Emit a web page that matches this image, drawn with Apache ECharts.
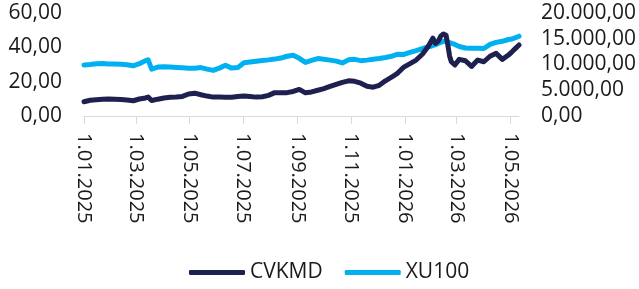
<!DOCTYPE html>
<html>
<head>
<meta charset="utf-8">
<script src="https://cdn.jsdelivr.net/npm/echarts@6/dist/echarts.min.js"></script>
<style>
  html, body { margin: 0; padding: 0; background: #fff; }
  #chart { width: 639px; height: 289px; }
</style>
</head>
<body>
<div id="chart"></div>
<script>
const firstDay = '2025-01-01'
const lastDay = '2026-05-11'

// dates of the points
const pointDates = [
  '2025-01-01', '2025-01-08', '2025-01-15', '2025-01-22', '2025-01-29', '2025-02-05', '2025-02-12', '2025-02-19', '2025-02-26',
  '2025-03-05', '2025-03-12', '2025-03-15', '2025-03-19', '2025-03-26', '2025-04-02', '2025-04-09', '2025-04-16', '2025-04-23', '2025-04-30',
  '2025-05-07', '2025-05-14', '2025-05-21', '2025-05-28', '2025-06-04', '2025-06-11', '2025-06-18', '2025-06-25',
  '2025-07-02', '2025-07-09', '2025-07-16', '2025-07-23', '2025-07-30', '2025-08-06', '2025-08-13', '2025-08-20', '2025-08-27',
  '2025-09-03', '2025-09-10', '2025-09-17', '2025-09-24', '2025-10-01', '2025-10-08', '2025-10-15', '2025-10-22', '2025-10-29',
  '2025-11-05', '2025-11-12', '2025-11-19', '2025-11-26', '2025-12-03', '2025-12-10', '2025-12-17', '2025-12-24', '2025-12-31',
  '2026-01-07', '2026-01-14', '2026-01-21', '2026-01-28', '2026-01-31', '2026-02-02', '2026-02-05', '2026-02-08', '2026-02-11',
  '2026-02-14', '2026-02-17', '2026-02-19', '2026-02-21', '2026-02-23', '2026-02-27', '2026-03-04', '2026-03-11', '2026-03-18',
  '2026-03-25', '2026-04-01', '2026-04-08', '2026-04-15', '2026-04-22', '2026-04-29', '2026-05-03', '2026-05-07', '2026-05-11'
]

const cvkmd = [
  8.3, 9.2, 9.5, 9.8, 9.9, 9.8, 9.6, 9.3, 8.9,
  9.9, 10.5, 11.0, 9.0, 9.8, 10.5, 10.9, 11.1, 11.4, 12.8,
  13.3, 12.4, 11.6, 11.0, 11.0, 10.9, 10.9, 11.3,
  11.6, 11.3, 11.0, 11.2, 12.0, 13.6, 13.5, 13.6, 14.3,
  15.5, 13.5, 14.0, 15.0, 16.0, 17.2, 18.4, 19.6, 20.5,
  20.2, 19.1, 17.3, 16.8, 17.9, 20.5, 22.6, 25.0, 28.5,
  30.5, 32.6, 36.0, 40.8, 43.5, 45.3, 42.3, 43.5, 46.5,
  47.8, 47.0, 41.5, 35.0, 31.6, 29.7, 33.0, 32.2, 28.9,
  32.6, 31.6, 34.8, 36.5, 33.0, 35.5, 37.4, 39.4, 41.4
]

const xu100 = [
  9900, 10000, 10150, 10200, 10100, 10100, 10040, 9950, 9750,
  10150, 10750, 10900, 9100, 9500, 9550, 9500, 9420, 9350, 9280,
  9280, 9400, 9100, 8850, 9300, 9850, 9300, 9400,
  10350, 10500, 10650, 10780, 10900, 11050, 11250, 11600, 11800,
  11200, 10400, 10800, 11150, 11000, 10850, 10650, 10300, 10900,
  11000, 10750, 10850, 11000, 11150, 11350, 11600, 12000, 11950,
  12350, 12700, 13100, 13450, 13550, 13650, 13850, 14100, 14300,
  14500, 14550, 14350, 14240, 14100, 13900, 13500, 13200, 13150,
  13150, 13100, 13900, 14300, 14500, 14850, 14950, 15200, 15500
]

// every calendar day is a category, ticks land on the 1st of odd months
const days = []
for (let d = new Date(firstDay + 'T00:00:00Z'); d <= new Date(lastDay + 'T00:00:00Z'); d.setUTCDate(d.getUTCDate() + 1)) {
  days.push(d.toISOString().slice(0, 10))
}

const isTickDay = (index, value) => {
  const parts = value.split('-')
  return parts[2] === '01' && parseInt(parts[1], 10) % 2 === 1
}

const dayLabel = value => {
  const parts = value.split('-')
  return parseInt(parts[2], 10) + '.' + parts[1] + '.' + parts[0]
}

// 20000 -> 20.000,00
const trNumber = v => {
  const [whole, frac] = v.toFixed(2).split('.')
  return whole.replace(/\B(?=(\d{3})+(?!\d))/g, '.') + ',' + frac
}

const font = '"Open Sans", sans-serif'
const textColor = '#1a1a1a'

const chart = echarts.init(document.getElementById('chart'))
chart.setOption({
  animation: false,
  grid: { left: 84, right: 119, top: 13, bottom: 173 },
  legend: {
    left: 184,
    top: 257,
    icon: 'roundRect',
    itemWidth: 56,
    itemHeight: 5,
    itemGap: 22,
    textStyle: { fontFamily: font, fontSize: 21, color: textColor },
    data: ['CVKMD', 'XU100']
  },
  xAxis: {
    type: 'category',
    data: days,
    boundaryGap: false,
    axisLine: { lineStyle: { color: '#d9d9d9', width: 1 } },
    axisTick: { interval: isTickDay, length: 8, lineStyle: { color: '#d9d9d9' } },
    axisLabel: {
      interval: isTickDay,
      rotate: -90,
      margin: 17,
      formatter: dayLabel,
      fontFamily: font,
      fontSize: 20,
      color: textColor
    },
    splitLine: { show: false }
  },
  yAxis: [
    {
      type: 'value',
      min: 0,
      max: 60,
      interval: 20,
      axisLine: { show: false },
      axisTick: { show: false },
      splitLine: { show: false },
      axisLabel: { margin: 22, formatter: trNumber, fontFamily: font, fontSize: 21, color: textColor }
    },
    {
      type: 'value',
      min: 0,
      max: 20000,
      interval: 5000,
      position: 'right',
      axisLine: { show: false },
      axisTick: { show: false },
      splitLine: { show: false },
      axisLabel: { margin: 22, formatter: trNumber, fontFamily: font, fontSize: 21, color: textColor }
    }
  ],
  series: [
    {
      name: 'CVKMD',
      type: 'line',
      yAxisIndex: 0,
      z: 3,
      symbol: 'none',
      data: pointDates.map((d, i) => [d, cvkmd[i]]),
      lineStyle: { color: '#1e204f', width: 5, cap: 'round', join: 'round' },
      itemStyle: { color: '#1e204f' }
    },
    {
      name: 'XU100',
      type: 'line',
      yAxisIndex: 1,
      z: 2,
      symbol: 'none',
      data: pointDates.map((d, i) => [d, xu100[i]]),
      lineStyle: { color: '#00b0f0', width: 5, cap: 'round', join: 'round' },
      itemStyle: { color: '#00b0f0' }
    }
  ]
})
</script>
</body>
</html>
